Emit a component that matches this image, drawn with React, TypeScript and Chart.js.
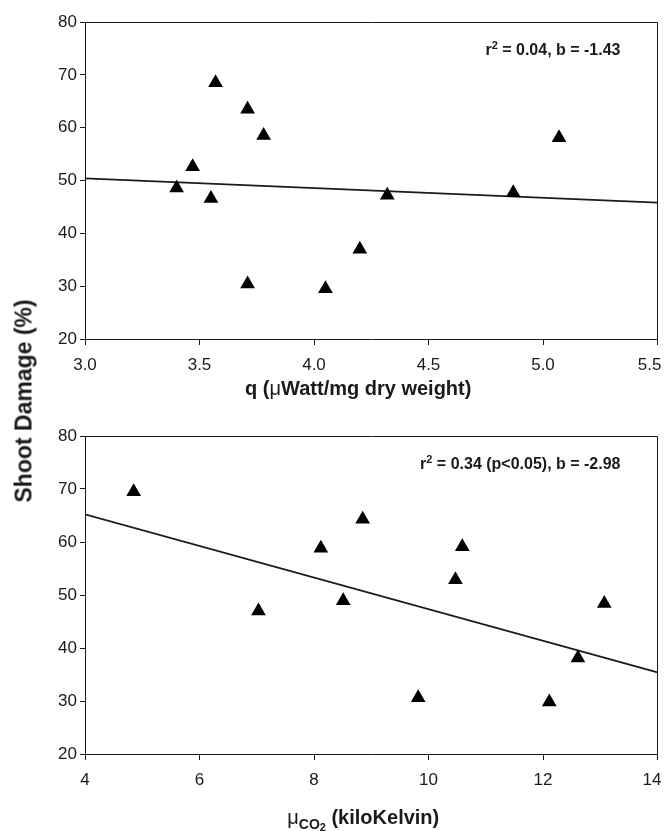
import React, { useEffect, useRef } from 'react';
import { Chart, registerables } from 'chart.js';

Chart.register(...registerables);

const FONT = '"Liberation Sans", Arial, Helvetica, sans-serif';
const INK = '#1a1a1a';

// ---------- data ----------
const damageTicks = [20, 30, 40, 50, 60, 70, 80];

const qTicks = [3.0, 3.5, 4.0, 4.5, 5.0, 5.5];
const qValues = [3.40, 3.47, 3.55, 3.57, 3.71, 3.78, 3.71, 4.05, 4.20, 4.32, 4.87, 5.07];
const qDamage = [48.6, 52.6, 46.6, 68.5, 63.5, 58.5, 30.4, 29.5, 37.0, 47.2, 47.7, 58.1];
const qFitX = [3.0, 5.5];
const qFitY = [50.4, 45.8];

const muTicks = [4, 6, 8, 10, 12, 14];
const muValues = [4.85, 7.03, 8.12, 8.51, 8.85, 9.82, 10.47, 10.59, 12.11, 12.61, 13.07];
const muDamage = [69.5, 47.0, 58.8, 48.9, 64.3, 30.6, 52.9, 59.1, 29.8, 38.1, 48.4];
const muFitX = [4, 14];
const muFitY = [65.2, 35.4];

// ---------- text ----------
const yTitle = 'Shoot Damage (%)';
const qTitle = [
  { text: 'q (', kind: 'main' },
  { text: 'μ', kind: 'greek' },
  { text: 'Watt/mg dry weight)', kind: 'main' },
];
const muTitle = [
  { text: 'μ', kind: 'greek' },
  { text: 'CO', kind: 'sub' },
  { text: '2', kind: 'sub2' },
  { text: ' (kiloKelvin)', kind: 'main' },
];
const qNote = [
  { text: 'r', kind: 'note' },
  { text: '2', kind: 'sup' },
  { text: ' = 0.04, b = -1.43', kind: 'note' },
];
const muNote = [
  { text: 'r', kind: 'note' },
  { text: '2', kind: 'sup' },
  { text: ' = 0.34 (p<0.05), b = -2.98', kind: 'note' },
];

type Seg = { text: string; kind: string };

const segStyle: Record<string, { font: string; dy: number }> = {
  main: { font: `bold 20px ${FONT}`, dy: 0 },
  greek: { font: `20px ${FONT}`, dy: 0 },
  sub: { font: `bold 14px ${FONT}`, dy: 5 },
  sub2: { font: `bold 11px ${FONT}`, dy: 7 },
  note: { font: `bold 16px ${FONT}`, dy: 0 },
  sup: { font: `bold 11px ${FONT}`, dy: -6 },
};

function drawRich(ctx: CanvasRenderingContext2D, segs: Seg[], x: number, y: number, align: string) {
  ctx.textBaseline = 'alphabetic';
  ctx.textAlign = 'left';
  ctx.fillStyle = INK;
  let total = 0;
  const widths = segs.map((s) => {
    ctx.font = segStyle[s.kind].font;
    const w = ctx.measureText(s.text).width;
    total += w;
    return w;
  });
  let cx = align === 'right' ? x - total : align === 'center' ? x - total / 2 : x;
  segs.forEach((s, i) => {
    ctx.font = segStyle[s.kind].font;
    ctx.fillText(s.text, cx, y + segStyle[s.kind].dy);
    cx += widths[i];
  });
}

type PanelProps = {
  xs: number[];
  ys: number[];
  fitX: number[];
  fitY: number[];
  xTicks: number[];
  decimals: number;
  title: Seg[];
  note: Seg[];
  width: number;
  height: number;
  padTop: number;
  axisHeight: number;
  titleDy: number;
  titleDx: number;
  top: number;
};

function Panel(p: PanelProps) {
  const ref = useRef<HTMLCanvasElement>(null);
  useEffect(() => {
    if (!ref.current) return;
    const align = (v: number) => Math.floor(v) + 0.5;
    const decor = {
      id: 'decor',
      beforeDraw(chart: any) {
        // keep the last x tick label inside the canvas (right-aligned like the original)
        const sx = chart.scales.x;
        const items = sx.getLabelItems();
        if (items && items.length) {
          const last = items[items.length - 1];
          last.options.textAlign = 'right';
          last.options.translation = [chart.chartArea.right + 4, last.options.translation[1]];
        }
      },
      afterDraw(chart: any) {
        const { ctx, chartArea: a } = chart;
        ctx.save();
        ctx.strokeStyle = INK;
        ctx.lineWidth = 1;
        ctx.beginPath();
        ctx.moveTo(align(a.left), align(a.top));
        ctx.lineTo(align(a.right), align(a.top));
        ctx.lineTo(align(a.right), align(a.bottom));
        ctx.stroke();
        drawRich(ctx, p.note, a.right - 37, a.top + 33, 'right');
        drawRich(ctx, p.title, (a.left + a.right) / 2 + p.titleDx, a.bottom + p.titleDy, 'center');
        ctx.restore();
      },
    };
    const chart = new Chart(ref.current, {
      type: 'scatter',
      data: {
        datasets: [
          {
            data: p.xs.map((x, i) => ({ x, y: p.ys[i] })),
            pointStyle: 'triangle',
            pointRadius: 8.5,
            pointHoverRadius: 8.5,
            backgroundColor: '#000',
            borderColor: '#000',
            borderWidth: 0,
            showLine: false,
          } as any,
          {
            type: 'line',
            data: p.fitX.map((x, i) => ({ x, y: p.fitY[i] })),
            borderColor: INK,
            borderWidth: 1.7,
            pointRadius: 0,
            fill: false,
            tension: 0,
          } as any,
        ],
      },
      options: {
        animation: false,
        responsive: false,
        devicePixelRatio: 1,
        layout: { padding: { top: p.padTop, right: 7, left: 0, bottom: 0 } },
        plugins: { legend: { display: false }, tooltip: { enabled: false } },
        scales: {
          x: {
            type: 'linear',
            min: p.xTicks[0],
            max: p.xTicks[p.xTicks.length - 1],
            afterBuildTicks: (s: any) => {
              s.ticks = p.xTicks.map((v) => ({ value: v }));
            },
            afterFit: (s: any) => {
              s.height = p.axisHeight;
              s.paddingLeft = 0;
              s.paddingRight = 0;
            },
            ticks: {
              autoSkip: false,
              maxRotation: 0,
              padding: 10,
              color: INK,
              font: { family: FONT, size: 17 },
              callback: (v: any) => Number(v).toFixed(p.decimals),
            },
            grid: { drawOnChartArea: false, drawTicks: true, tickLength: 6, color: INK },
            border: { display: true, color: INK, width: 1 },
            title: { display: false },
          },
          y: {
            type: 'linear',
            min: damageTicks[0],
            max: damageTicks[damageTicks.length - 1],
            afterBuildTicks: (s: any) => {
              s.ticks = damageTicks.map((v) => ({ value: v }));
            },
            afterFit: (s: any) => {
              s.width = 85;
            },
            ticks: {
              autoSkip: false,
              padding: 3,
              color: INK,
              font: { family: FONT, size: 17 },
            },
            grid: { drawOnChartArea: false, drawTicks: true, tickLength: 5, color: INK },
            border: { display: true, color: INK, width: 1 },
          },
        },
      },
      plugins: [decor],
    } as any);
    return () => chart.destroy();
  }, []);
  return (
    <canvas
      ref={ref}
      width={p.width}
      height={p.height}
      style={{ position: 'absolute', left: 0, top: p.top, width: p.width, height: p.height, display: 'block' }}
    />
  );
}

export default function App() {
  return (
    <div style={{ position: 'absolute', left: 0, top: 0, width: 666, height: 831, background: '#fff', overflow: 'hidden' }}>
      <Panel
        xs={qValues}
        ys={qDamage}
        fitX={qFitX}
        fitY={qFitY}
        xTicks={qTicks}
        decimals={1}
        title={qTitle}
        note={qNote}
        width={666}
        height={400}
        padTop={22}
        axisHeight={61}
        titleDy={56}
        titleDx={-13}
        top={0}
      />
      <Panel
        xs={muValues}
        ys={muDamage}
        fitX={muFitX}
        fitY={muFitY}
        xTicks={muTicks}
        decimals={0}
        title={muTitle}
        note={muNote}
        width={666}
        height={431}
        padTop={36}
        axisHeight={77}
        titleDy={70}
        titleDx={-8}
        top={400}
      />
      <div
        style={{
          position: 'absolute',
          left: 24,
          top: 401,
          transform: 'translate(-50%, -50%) rotate(-90deg)',
          font: `bold 23px ${FONT}`,
          color: INK,
          whiteSpace: 'nowrap',
        }}
      >
        {yTitle}
      </div>
    </div>
  );
}
